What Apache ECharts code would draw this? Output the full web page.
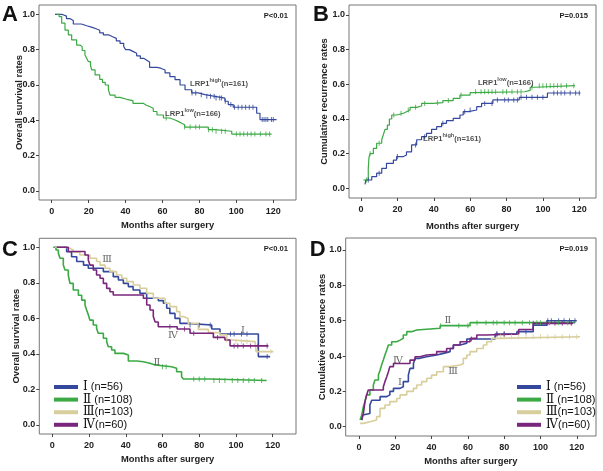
<!DOCTYPE html>
<html><head><meta charset="utf-8">
<script src="https://cdn.jsdelivr.net/npm/echarts@6/dist/echarts.min.js"></script>
<style>html,body{margin:0;padding:0;background:#fff}#c{width:603px;height:471px}</style>
</head><body><div id="c"></div>
<script>
// ---------- DATA ----------
const xTickValues = [0,20,40,60,80,100,120];
const yTickValues = [0,0.2,0.4,0.6,0.8,1.0];
// Panel A: overall survival by LRP1
const aHigh = [[1.8,1.0],[5.4,0.99],[8,0.975],[10,0.965],[11.7,0.945],[16,0.935],[19,0.926],[22,0.918],[24,0.91],[26,0.895],[28,0.883],[31,0.873],[33,0.864],[35,0.85],[37,0.836],[39,0.818],[40,0.80],[42,0.79],[44,0.78],[46,0.765],[48,0.75],[50,0.74],[51.5,0.73],[53,0.70],[57,0.695],[59,0.685],[61.4,0.668],[64,0.647],[66.8,0.63],[69.5,0.60],[72.2,0.573],[75.8,0.555],[79.4,0.545],[83,0.536],[88.4,0.526],[93.8,0.508],[95.6,0.489],[98.3,0.474],[111,0.44],[112.8,0.404],[121.8,0.404]];
const aLow = [[2.7,1.0],[4,0.987],[5.4,0.95],[7.2,0.91],[9,0.883],[10.8,0.855],[13.5,0.826],[15.3,0.817],[16.5,0.795],[18,0.77],[19,0.75],[19.9,0.732],[21,0.71],[21.7,0.685],[23.5,0.657],[26,0.632],[27.5,0.615],[29,0.6],[30.7,0.572],[31.6,0.543],[34.3,0.53],[37,0.519],[40.6,0.511],[44,0.496],[49.6,0.487],[51,0.478],[53,0.468],[55,0.45],[57,0.43],[60.5,0.413],[64,0.402],[66.8,0.394],[68.5,0.383],[70.4,0.375],[72,0.362],[84.8,0.347],[88.4,0.338],[97.5,0.322],[119.1,0.322]];
const aHighCens = [76,78,81,84,86,88,89,91,92,94,97,99,101,103,105,107,109,114,115,116,117,119,120];
const aLowCens = [62,72,75,78,80,85,87,89,92,94,100,102,104,106,108,110,113,116,118];

// Panel B: cumulative recurrence by LRP1
const bLow = [[1.3,0.048],[4,0.115],[4.4,0.18],[5,0.2],[6.8,0.23],[8.6,0.26],[11.4,0.28],[12.3,0.31],[13.2,0.34],[14.5,0.365],[15.6,0.40],[16.9,0.423],[19.6,0.433],[23.3,0.442],[25,0.452],[27,0.467],[30.6,0.475],[33.3,0.49],[39.8,0.494],[45,0.506],[50.7,0.519],[54.4,0.538],[60,0.552],[61.7,0.557],[90,0.565],[93,0.583],[95.6,0.592],[117.6,0.592]];
const bHigh = [[2.2,0.023],[2.7,0.048],[5.9,0.067],[8.6,0.087],[11.4,0.115],[14,0.144],[17.8,0.163],[19.6,0.183],[23.3,0.192],[25,0.21],[27.8,0.25],[30.6,0.28],[33.3,0.298],[36,0.317],[38.8,0.34],[41.6,0.356],[44.3,0.375],[47,0.39],[50.7,0.404],[54.4,0.423],[56.2,0.442],[59,0.452],[63.6,0.471],[66.3,0.49],[72.5,0.51],[87,0.525],[102.5,0.55],[120.7,0.55]];
const bLowCens = [3,5,10,18,22,26,30,35,42,48,55,63,66,68,70,72,74,78,80,83,86,88,94,98,100,102,104,106,108,110,113,117];
const bHighCens = [4,10,20,30,35,45,57,60,68,72,75,79,81,84,86,88,91,94,97,100,106,108,110,112,115,118,120];

// Panel C: overall survival by stage
const cI = [[1.5,1.0],[7.8,0.975],[10.5,0.947],[13.3,0.92],[17,0.9],[19.6,0.882],[27.8,0.863],[33.2,0.835],[36,0.816],[38.7,0.797],[41.4,0.779],[44,0.76],[47.7,0.741],[51.4,0.713],[57.7,0.70],[60.5,0.685],[62.3,0.657],[64,0.628],[66.8,0.6],[69.5,0.572],[73.2,0.563],[86.8,0.54],[91.3,0.512],[112.2,0.385],[118.6,0.385]];
const cII = [[0.5,1.0],[2,0.985],[3.3,0.966],[4.2,0.938],[6,0.9],[6.9,0.872],[8.7,0.844],[9.6,0.797],[11.4,0.76],[14.2,0.73],[16,0.703],[17.8,0.675],[18.7,0.647],[19.6,0.62],[20.5,0.59],[22.3,0.563],[24.1,0.544],[25,0.516],[27.8,0.488],[29.6,0.469],[30.5,0.44],[32.3,0.422],[34.1,0.403],[38.7,0.394],[41.4,0.36],[46,0.356],[49.6,0.347],[53.2,0.338],[56,0.328],[65,0.319],[67.7,0.3],[70.4,0.272],[71.4,0.259],[85.9,0.25],[116.7,0.25]];
const cIII = [[1.5,1.0],[6.9,0.994],[9.6,0.985],[11.4,0.972],[15,0.957],[20.5,0.938],[24.1,0.92],[26,0.9],[28.7,0.882],[31.4,0.863],[35,0.844],[37.8,0.826],[40.5,0.807],[44.1,0.788],[47.7,0.77],[51.4,0.741],[55,0.713],[61.4,0.685],[64,0.666],[67.7,0.638],[69.5,0.61],[71.4,0.6],[74,0.572],[79.5,0.538],[85,0.52],[91.3,0.507],[95,0.478],[97.7,0.469],[110.4,0.46],[111,0.413],[120.4,0.413]];
const cIV = [[2.4,1.0],[8.7,0.976],[17.8,0.957],[19.6,0.929],[20.5,0.9],[22.3,0.872],[24.1,0.844],[26,0.826],[27.8,0.797],[29.6,0.769],[31.4,0.75],[33.2,0.732],[49.6,0.713],[51.4,0.675],[53.2,0.647],[55,0.61],[56,0.58],[57.7,0.553],[68,0.54],[75,0.516],[87.7,0.493],[94,0.478],[96.8,0.445],[117.7,0.445]];
const cICens = [75,80,86,97,99,103,106,117];
const cIICens = [60,62,77,80,83,88,91,94,98,101,104,107,110,114];
const cIIICens = [95,100,103,106,119];
const cIVCens = [64,72,77,90,99,101,104,108,112,117];

// Panel D: cumulative recurrence by stage
const dI = [[1.5,0.038],[2,0.066],[2.4,0.075],[6,0.123],[7,0.15],[11.6,0.17],[15.3,0.18],[17,0.2],[19,0.217],[22.6,0.226],[24.4,0.255],[27.2,0.292],[28.1,0.33],[30,0.358],[30.9,0.387],[33.6,0.396],[37.3,0.406],[42.8,0.415],[46.5,0.425],[50.2,0.443],[52,0.462],[55.7,0.472],[59.4,0.496],[75,0.525],[87,0.538],[96,0.575],[103.5,0.6],[120,0.6]];
const dII = [[0.6,0.038],[1.5,0.066],[2.4,0.113],[3.3,0.142],[4.2,0.18],[6,0.208],[7.9,0.236],[8.8,0.264],[10.7,0.292],[11.6,0.32],[12.5,0.35],[13.4,0.377],[14.3,0.406],[15.3,0.434],[16.2,0.462],[18,0.481],[20.8,0.49],[22.6,0.5],[24.4,0.519],[26.3,0.538],[29,0.547],[31.8,0.557],[44.7,0.572],[61.2,0.589],[119,0.589]];
const dIII = [[0.6,0.019],[2.4,0.028],[6,0.038],[9.7,0.057],[11.6,0.104],[14.3,0.123],[17,0.142],[20.8,0.16],[22.6,0.18],[26.3,0.2],[30,0.217],[31.8,0.236],[34.5,0.255],[37.3,0.274],[40,0.292],[42.8,0.311],[46.5,0.34],[50.2,0.349],[55.7,0.358],[57.5,0.387],[59.4,0.406],[61.2,0.425],[64.9,0.443],[68.5,0.462],[70.4,0.481],[73.1,0.5],[75.9,0.509],[121.8,0.509]];
const dIV = [[1.5,0.038],[2.4,0.075],[3.3,0.142],[4.2,0.18],[5.1,0.208],[13.4,0.226],[14.3,0.255],[15.3,0.283],[16.2,0.311],[17,0.34],[19,0.358],[28.1,0.377],[30.9,0.396],[33.6,0.406],[37.3,0.41],[42.8,0.425],[48.3,0.443],[52,0.462],[55.7,0.481],[61.2,0.5],[64.9,0.519],[70,0.525],[88,0.55],[96,0.585],[118,0.585]];
const dICens = [62,76,80,92,104,106,110,113,116,119];
const dIICens = [45,55,60,65,70,74,76,80,83,86,90,94,98,100,105,110,115];
const dIIICens = [78,80,84,88,92,96,100,104,108,112,116,120];
const dIVCens = [76,80,96,104,108,112,117];

const stageNames = ['Ⅰ (n=56)','Ⅱ (n=108)','Ⅲ(n=103)','Ⅳ(n=60)'];
const pValues = ['P<0.01','P=0.015','P<0.01','P=0.019'];
const panelLetters = ['A','B','C','D'];
const yTitles = ['Overall survival rates','Cumulative recurrence rates','Overall survival rates','Cumulative recurrence rates'];
const xTitle = 'Months after surgery';

// annotation text placed in data coordinates: [month, value, text]
const annA = [[74.9,0.612,'high','(n=161)'],[61.4,0.442,'low','(n=166)']];
const annB = [[64.3,0.614,'low','(n=166)'],[34.1,0.291,'high','(n=161)']];
const annC = [[29.8,0.934,'Ⅲ'],[103.8,0.535,'Ⅰ'],[65.7,0.506,'Ⅳ'],[57,0.355,'Ⅱ']];
const annD = [[49,0.604,'Ⅱ'],[21.5,0.377,'Ⅳ'],[22.6,0.253,'Ⅰ'],[51.8,0.315,'Ⅲ']];

// ---------- STYLE / LAYOUT ----------
const COL = {blue:'#34499D', green:'#3BAA44', tan:'#D8CE9C', purple:'#7A267C'};
const SANS = 'Liberation Sans, Arial, Helvetica, sans-serif';
const SERIF = 'Liberation Serif, DejaVu Serif, "Times New Roman", serif';
const TXT = '#1e1e1e';

// grid = plot frame; axis extents chosen so ticks fall where the reference puts them
const layout = [
  {grid:{left:39, top:5, width:257, height:195}, xr:[-6.88,132.3], yr:[-0.0509,1.0526], xGap:20.5, yGap:15},
  {grid:{left:349, top:5, width:247, height:193}, xr:[-6.6,129.2], yr:[-0.056,1.0577], xGap:23.5, yGap:20.5},
  {grid:{left:39.3, top:238.3, width:256.7, height:195.7}, xr:[-7.08,132.7], yr:[-0.0507,1.0507], xGap:20.5, yGap:18.5},
  {grid:{left:345.7, top:238, width:250.3, height:198}, xr:[-7.33,130.6], yr:[-0.0526,1.068], xGap:20.5, yGap:18.5}
];

function stepAt(arr, t) {
  let v = arr[0][1];
  for (const p of arr) { if (p[0] <= t) v = p[1]; else break; }
  return v;
}

const grids = [], xAxes = [], yAxes = [], series = [], graphics = [];

layout.forEach((L, i) => {
  grids.push(Object.assign({containLabel:false, show:true, borderColor:'#777', borderWidth:1, backgroundColor:'transparent'}, L.grid));
  xAxes.push({
    type:'value', gridIndex:i, min:L.xr[0], max:L.xr[1], position:'bottom',
    name:xTitle, nameLocation:'middle', nameGap:L.xGap, nameMoveOverlap:false,
    nameTextStyle:{fontFamily:SANS, fontWeight:'bold', fontSize:9.4, color:TXT},
    axisLine:{show:false, onZero:false}, splitLine:{show:false},
    axisTick:{show:true, length:3, customValues:xTickValues, lineStyle:{color:'#444', width:1}},
    axisLabel:{fontFamily:SANS, fontWeight:'bold', fontSize:9, color:TXT, margin:7, customValues:xTickValues}
  });
  yAxes.push({
    type:'value', gridIndex:i, min:L.yr[0], max:L.yr[1], position:'left',
    name:yTitles[i], nameLocation:'middle', nameGap:L.yGap, nameMoveOverlap:false,
    nameTextStyle:{fontFamily:SANS, fontWeight:'bold', fontSize:9.4, color:TXT},
    axisLine:{show:false, onZero:false}, splitLine:{show:false},
    axisTick:{show:true, length:3, customValues:yTickValues, lineStyle:{color:'#444', width:1}},
    axisLabel:{fontFamily:SANS, fontWeight:'bold', fontSize:9, color:TXT, margin:4, customValues:yTickValues, formatter:v => (+v).toFixed(1)}
  });
  const g = L.grid;
  graphics.push({type:'text', left:(i%2? g.left-36 : 2), top:g.top+(i<2?-1:1), style:{text:panelLetters[i], font:'bold 22px '+SANS, fill:'#111'}, z:100});
  graphics.push({type:'text', x:g.left+g.width-8, y:g.top+11, style:{text:pValues[i], font:'bold 7.6px '+SANS, fill:TXT, textAlign:'right', textVerticalAlign:'middle'}, z:100});
});

function addCurve(gi, name, color, data, cens, width) {
  series.push({
    type:'line', name:name, xAxisIndex:gi, yAxisIndex:gi, data:data, step:'end',
    showSymbol:false, symbol:'none', clip:false, animation:false,
    lineStyle:{color:color, width:width}, itemStyle:{color:color}, z:3
  });
  series.push({
    type:'scatter', name:name+'-censored', xAxisIndex:gi, yAxisIndex:gi,
    data:cens.map(t => [t, stepAt(data, t)]), symbol:'rect', symbolSize:[1,5],
    itemStyle:{color:color}, clip:false, animation:false, silent:true, z:4
  });
}

addCurve(0, 'LRP1 high (n=161)', COL.blue, aHigh, aHighCens, 1.2);
addCurve(0, 'LRP1 low (n=166)', COL.green, aLow, aLowCens, 1.2);
addCurve(1, 'LRP1 low (n=166) ', COL.green, bLow, bLowCens, 1.2);
addCurve(1, 'LRP1 high (n=161) ', COL.blue, bHigh, bHighCens, 1.2);
addCurve(2, stageNames[0], COL.blue, cI, cICens, 1.6);
addCurve(2, stageNames[1], COL.green, cII, cIICens, 1.6);
addCurve(2, stageNames[2], COL.tan, cIII, cIIICens, 1.6);
addCurve(2, stageNames[3], COL.purple, cIV, cIVCens, 1.6);
addCurve(3, stageNames[0], COL.blue, dI, dICens, 1.6);
addCurve(3, stageNames[1], COL.green, dII, dIICens, 1.6);
addCurve(3, stageNames[2], COL.tan, dIII, dIIICens, 1.6);
addCurve(3, stageNames[3], COL.purple, dIV, dIVCens, 1.6);

// LRP1 labels with superscripts
const lrpRich = {
  b:{fontFamily:SANS, fontWeight:'bold', fontSize:7.6, color:TXT, lineHeight:11, verticalAlign:'bottom'},
  s:{fontFamily:SANS, fontWeight:'bold', fontSize:5.6, color:TXT, lineHeight:11, verticalAlign:'top', padding:[0,0,5,0]}
};
[[0,annA],[1,annB]].forEach(([gi, ann]) => {
  series.push({
    type:'scatter', name:'ann'+gi, xAxisIndex:gi, yAxisIndex:gi, symbolSize:0, silent:true, animation:false, clip:false,
    data:ann.map(a => ({value:[a[0],a[1]], sup:a[2], tail:a[3]})),
    label:{show:true, position:'right', distance:0, rich:lrpRich,
      formatter:p => '{b|LRP1}{s|'+p.data.sup+'}{b|'+p.data.tail+'}'}, z:6
  });
});
[[2,annC],[3,annD]].forEach(([gi, ann]) => {
  series.push({
    type:'scatter', name:'ann'+gi, xAxisIndex:gi, yAxisIndex:gi, symbolSize:0, silent:true, animation:false, clip:false,
    data:ann.map(a => ({value:[a[0],a[1]], txt:a[2]})),
    label:{show:true, position:'inside', fontFamily:SERIF, fontSize:10, color:'#444', formatter:p => p.data.txt}, z:6
  });
});

const legendBase = {
  orient:'vertical', icon:'rect', itemWidth:24, itemHeight:4, itemGap:0.6, selectedMode:false, padding:0,
  data:stageNames,
  formatter:n => n.replace(/^([ⅠⅡⅢⅣ])/, '{r|$1}'),
  textStyle:{fontFamily:SANS, fontSize:11, color:'#111', lineHeight:12,
    rich:{r:{fontFamily:SERIF, fontSize:12, color:'#111', lineHeight:12}}}
};

const chart = echarts.init(document.getElementById('c'), null, {renderer:'canvas'});
chart.setOption({
  backgroundColor:'#fff',
  animation:false,
  grid:grids, xAxis:xAxes, yAxis:yAxes, series:series,
  legend:[Object.assign({left:54, top:381}, legendBase), Object.assign({left:517, top:381}, legendBase)],
  graphic:graphics
});
</script>
</body></html>
